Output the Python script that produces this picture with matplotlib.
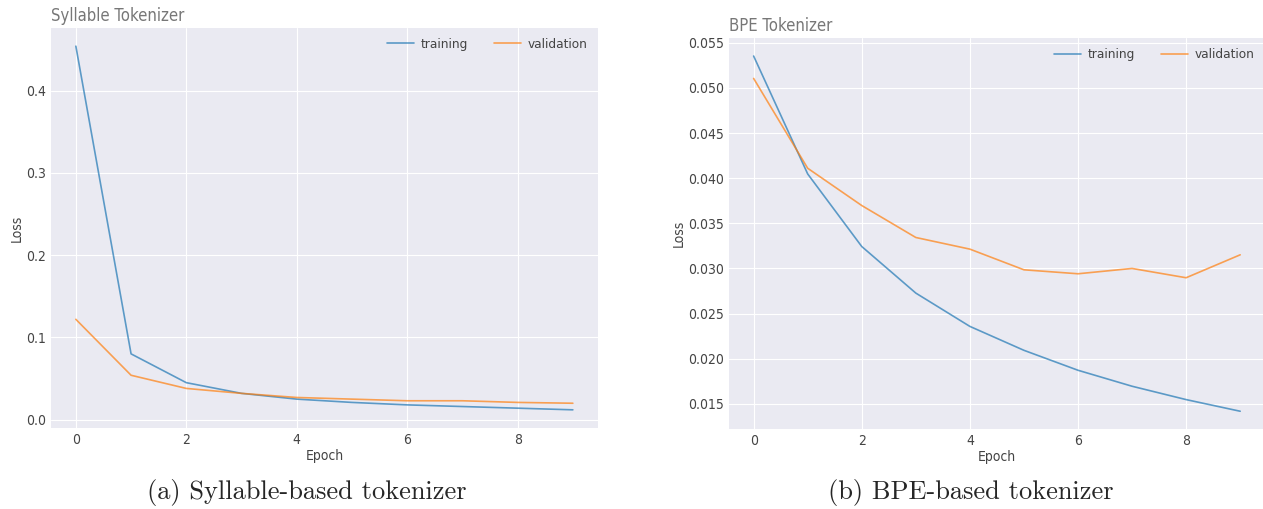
import matplotlib
matplotlib.use("Agg")
import matplotlib.pyplot as plt
import numpy as np

epochs = list(range(10))
syl_train = [0.454, 0.080, 0.045, 0.032, 0.025, 0.021, 0.018, 0.016, 0.014, 0.012]
syl_val = [0.122, 0.054, 0.038, 0.032, 0.027, 0.025, 0.023, 0.023, 0.021, 0.020]
bpe_train = [0.05353, 0.04047, 0.03243, 0.02727, 0.02358, 0.02093, 0.01872, 0.01695, 0.01547, 0.01418]
bpe_val = [0.05105, 0.0411, 0.03697, 0.03343, 0.03214, 0.02985, 0.02941, 0.0300, 0.02897, 0.03151]
titles = ["Syllable Tokenizer", "BPE Tokenizer"]
captions = ["(a) Syllable-based tokenizer", "(b) BPE-based tokenizer"]
legend_labels = ["training", "validation"]

plt.style.use("seaborn-v0_8-darkgrid")
plt.rcParams['font.family'] = ['DejaVu Sans']
plt.rcParams['font.stretch'] = 'condensed'

W, H = 1263, 509
fig = plt.figure(figsize=(W / 100, H / 100), dpi=100)

ax1 = fig.add_axes([51 / W, (H - 428) / H, (597.7 - 51) / W, (428 - 28) / H])
ax2 = fig.add_axes([729.3 / W, (H - 429) / H, (1264.5 - 729.3) / W, (429 - 38.3) / H])

tick_color = "#444444"
for ax, tr, va, title in [(ax1, syl_train, syl_val, titles[0]), (ax2, bpe_train, bpe_val, titles[1])]:
    ax.plot(epochs, tr, color="#1f77b4", alpha=0.7, lw=1.2, label=legend_labels[0])
    ax.plot(epochs, va, color="#ff7f0e", alpha=0.7, lw=1.2, label=legend_labels[1])
    ax.set_title(title, loc="left", color="#777777", fontsize=12, pad=5)
    ax.set_xlabel("Epoch", fontsize=10, color=tick_color, labelpad=1.5)
    ax.set_ylabel("Loss", fontsize=10, color=tick_color, labelpad=2)
    ax.tick_params(labelsize=10, colors=tick_color)
    ax.set_xticks([0, 2, 4, 6, 8])
    leg = ax.legend(loc="upper right", ncol=2, frameon=False, fontsize=9.7,
                    columnspacing=1.9, handlelength=2.0, handletextpad=0.5,
                    borderaxespad=0.35)
    for t in leg.get_texts():
        t.set_color(tick_color)

ax1.set_yticks([0.0, 0.1, 0.2, 0.3, 0.4])
ax1.set_yticklabels(["0.0", "0.1", "0.2", "0.3", "0.4"])
ax2.set_yticks([0.015, 0.020, 0.025, 0.030, 0.035, 0.040, 0.045, 0.050, 0.055])
ax2.set_yticklabels(["0.015", "0.020", "0.025", "0.030", "0.035", "0.040", "0.045", "0.050", "0.055"])

fig.text(306.5 / W, 1 - 492 / H, captions[0], ha="center", va="center", fontsize=19, family="cmr10", stretch="normal")
fig.text(970.5 / W, 1 - 492 / H, captions[1], ha="center", va="center", fontsize=19, family="cmr10", stretch="normal")

fig.savefig("out.png", dpi=100)
